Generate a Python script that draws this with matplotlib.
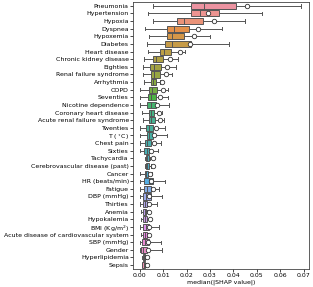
import matplotlib
matplotlib.use("Agg")
import matplotlib.pyplot as plt
import seaborn as sns

features = ["Pneumonia", "Hypertension", "Hypoxia", "Dyspnea", "Hypoxemia", "Diabetes",
            "Heart disease", "Chronic kidney disease", "Eighties", "Renal failure syndrome",
            "Arrhythmia", "COPD", "Seventies", "Nicotine dependence", "Coronary heart disease",
            "Acute renal failure syndrome", "Twenties", "T ($^\\circ$C)", "Chest pain", "Sixties",
            "Tachycardia", "Cerebrovascular disease (past)", "Cancer", "HR (beats/min)", "Fatigue",
            "DBP (mmHg)", "Thirties", "Anemia", "Hypokalemia", "BMI (Kg/m$^2$)",
            "Acute disease of cardiovascular system", "SBP (mmHg)", "Gender", "Hyperlipidemia", "Sepsis"]

whislo = [0.0059, 0.0037, 0.0059, 0.0023, 0.0040, 0.0033, 0.0037, 0.0020, 0.0014, 0.0016,
          0.0019, 0.0002, 0.0000, 0.0000, 0.0009, 0.0014, 0.0000, 0.0000, 0.0000, 0.0000,
          0.0022, 0.0022, 0.0002, 0.0002, 0.0002, 0.0002, 0.0002, 0.0006, 0.0006, 0.0002,
          0.0006, 0.0002, 0.0002, 0.0009, 0.0009]
q1 = [0.0220, 0.0218, 0.0158, 0.0118, 0.0118, 0.0110, 0.0089, 0.0057, 0.0045, 0.0049,
      0.0048, 0.0042, 0.0037, 0.0033, 0.0042, 0.0039, 0.0028, 0.0031, 0.0025, 0.0020,
      0.0028, 0.0028, 0.0023, 0.0019, 0.0019, 0.0014, 0.0014, 0.0016, 0.0016, 0.0016,
      0.0016, 0.0011, 0.0006, 0.0013, 0.0012]
med = [0.0276, 0.0257, 0.0189, 0.0147, 0.0138, 0.0137, 0.0106, 0.0070, 0.0062, 0.0063,
       0.0056, 0.0052, 0.0050, 0.0048, 0.0050, 0.0047, 0.0042, 0.0040, 0.0033, 0.0031,
       0.0033, 0.0033, 0.0028, 0.0042, 0.0031, 0.0026, 0.0023, 0.0021, 0.0021, 0.0028,
       0.0023, 0.0022, 0.0016, 0.0017, 0.0017]
q3 = [0.0410, 0.0340, 0.0269, 0.0212, 0.0191, 0.0218, 0.0133, 0.0101, 0.0090, 0.0087,
      0.0069, 0.0073, 0.0070, 0.0070, 0.0063, 0.0066, 0.0059, 0.0059, 0.0049, 0.0042,
      0.0039, 0.0039, 0.0035, 0.0059, 0.0048, 0.0049, 0.0033, 0.0029, 0.0030, 0.0042,
      0.0031, 0.0042, 0.0031, 0.0023, 0.0023]
whishi = [0.0690, 0.0523, 0.0448, 0.0352, 0.0300, 0.0381, 0.0194, 0.0165, 0.0154, 0.0137,
          0.0085, 0.0123, 0.0123, 0.0127, 0.0094, 0.0106, 0.0109, 0.0118, 0.0090, 0.0080,
          0.0045, 0.0048, 0.0052, 0.0109, 0.0084, 0.0097, 0.0076, 0.0033, 0.0050, 0.0084,
          0.0034, 0.0090, 0.0097, 0.0028, 0.0028]
means = [0.0456, 0.0290, 0.0318, 0.0248, 0.0233, 0.0215, 0.0172, 0.0130, 0.0116, 0.0113,
         0.0097, 0.0101, 0.0087, 0.0073, 0.0084, 0.0087, 0.0070, 0.0062, 0.0063, 0.0049,
         0.0059, 0.0059, 0.0045, 0.0049, 0.0059, 0.0040, 0.0042, 0.0040, 0.0043, 0.0040,
         0.0039, 0.0034, 0.0037, 0.0033, 0.0033]

xticks = [0.00, 0.01, 0.02, 0.03, 0.04, 0.05, 0.06, 0.07]

n = len(features)
colors = [sns.desaturate(c, 0.8) for c in sns.husl_palette(n, h=0.01, s=0.9, l=0.7)]

fig = plt.figure(figsize=(3.13, 2.87), dpi=100)
ax = fig.add_axes([0.425, 0.063, 0.562, 0.93])

stats = []
for i in range(n):
    stats.append(dict(whislo=whislo[i], q1=q1[i], med=med[i], q3=q3[i],
                      whishi=whishi[i], mean=means[i], fliers=[], label=features[i]))

positions = list(range(n))
line_c = "#555555"
bp = ax.bxp(stats, positions=positions, vert=False, widths=0.8, patch_artist=True,
            showmeans=True, showfliers=False, capwidths=0.45,
            boxprops=dict(edgecolor=line_c, linewidth=0.7),
            whiskerprops=dict(color=line_c, linewidth=0.7),
            capprops=dict(color=line_c, linewidth=0.7),
            medianprops=dict(color=line_c, linewidth=0.7),
            meanprops=dict(marker="o", markerfacecolor="white", markeredgecolor="#333333",
                           markersize=3.2, markeredgewidth=0.6))
for patch, c in zip(bp["boxes"], colors):
    patch.set_facecolor(c)

ax.set_ylim(n - 0.5, -0.5)
ax.set_yticks(positions)
ax.set_yticklabels(features, fontsize=4.5)
ax.set_xlim(-0.0028, 0.0722)
ax.set_xticks(xticks)
ax.set_xticklabels([f"{t:.2f}" for t in xticks], fontsize=4.5)
ax.set_xlabel("median(|SHAP value|)", fontsize=4.5, labelpad=1)
ax.tick_params(length=2, width=0.5, pad=1)
for s in ax.spines.values():
    s.set_linewidth(0.6)
    s.set_color("#444444")

fig.savefig("out.png", dpi=100)
